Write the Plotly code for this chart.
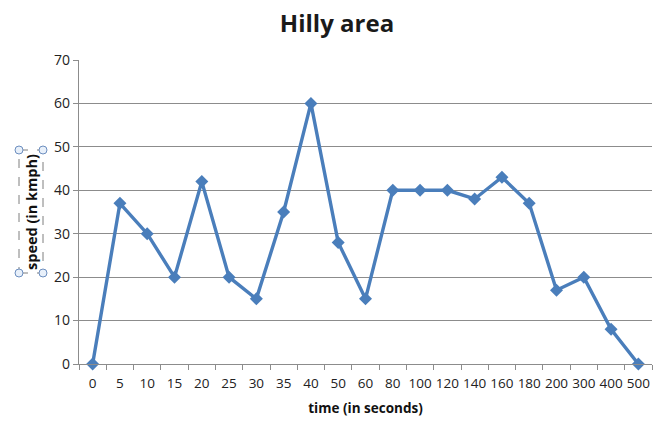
import plotly.graph_objects as go

# Time points (seconds) and measured speed (kmph) on the hilly stretch
times = ["0", "5", "10", "15", "20", "25", "30", "35", "40", "50", "60",
         "80", "100", "120", "140", "160", "180", "200", "300", "400", "500"]
speeds = [0, 37, 30, 20, 42, 20, 15, 35, 60, 28, 15,
          40, 40, 40, 38, 43, 37, 17, 20, 8, 0]
y_ticks = [0, 10, 20, 30, 40, 50, 60, 70]

W, H = 653, 428
L, R, T, B = 79, 1, 60, 64
PW, PH = W - L - R, H - T - B


def px_x(x):
    return (x - L) / PW


def px_y(y):
    return (H - B - y) / PH


line_blue = "#4A7EBB"
grid_grey = "#8C8C8C"
font_family = "Open Sans, Liberation Sans, sans-serif"

fig = go.Figure(
    go.Scatter(
        x=times,
        y=speeds,
        mode="lines+markers",
        line=dict(color=line_blue, width=3.4),
        marker=dict(symbol="diamond", size=10, color=line_blue),
        cliponaxis=False,
        hoverinfo="x+y",
    )
)

fig.update_layout(
    width=W,
    height=H,
    margin=dict(l=L, r=R, t=T, b=B),
    paper_bgcolor="white",
    plot_bgcolor="white",
    showlegend=False,
    title=dict(
        text="<b>Hilly area</b>",
        x=337 / W,
        xanchor="center",
        y=1 - 24 / H,
        yanchor="middle",
        font=dict(family=font_family, size=24, color="#1a1a1a"),
    ),
    font=dict(family=font_family, color="#222"),
)

fig.update_xaxes(
    type="category",
    range=[-0.5, len(times) - 0.5],
    showline=True,
    linecolor=grid_grey,
    linewidth=1.2,
    ticks="outside",
    tickson="boundaries",
    ticklen=5,
    tickcolor=grid_grey,
    showgrid=False,
    tickangle=0,
    ticklabelstandoff=7,
    tickfont=dict(size=13.5, color="#222"),
    title=dict(text="<b>time (in seconds)</b>",
               font=dict(size=13.5, color="#111"), standoff=12),
)

fig.update_yaxes(
    range=[0, 70],
    tickvals=y_ticks,
    showline=True,
    linecolor=grid_grey,
    linewidth=1.2,
    ticks="outside",
    ticklen=5,
    tickcolor=grid_grey,
    showgrid=True,
    gridcolor=grid_grey,
    gridwidth=1,
    zeroline=False,
    tickfont=dict(size=14, color="#222"),
)

# Axis title for speed, drawn inside its selection frame
fig.add_annotation(
    text="<b>speed (in kmph)</b>",
    xref="paper", yref="paper",
    x=px_x(31), y=px_y(212),
    xanchor="center", yanchor="middle",
    textangle=-90,
    showarrow=False,
    font=dict(size=14.5, color="#111"),
)

x0, x1, y0, y1 = 19, 43, 150, 273
fig.add_shape(
    type="rect", xref="paper", yref="paper",
    x0=px_x(x0), x1=px_x(x1), y0=px_y(y1), y1=px_y(y0),
    line=dict(color="#7F7F7F", width=1, dash="dash"),
)
for cx in (x0, x1):
    for cy in (y0, y1):
        fig.add_shape(
            type="circle", xref="paper", yref="paper",
            x0=px_x(cx - 4), x1=px_x(cx + 4),
            y0=px_y(cy + 4), y1=px_y(cy - 4),
            line=dict(color="#6C8EBF", width=1),
            fillcolor="#E8F0FA",
        )

fig.write_html("out.html")
